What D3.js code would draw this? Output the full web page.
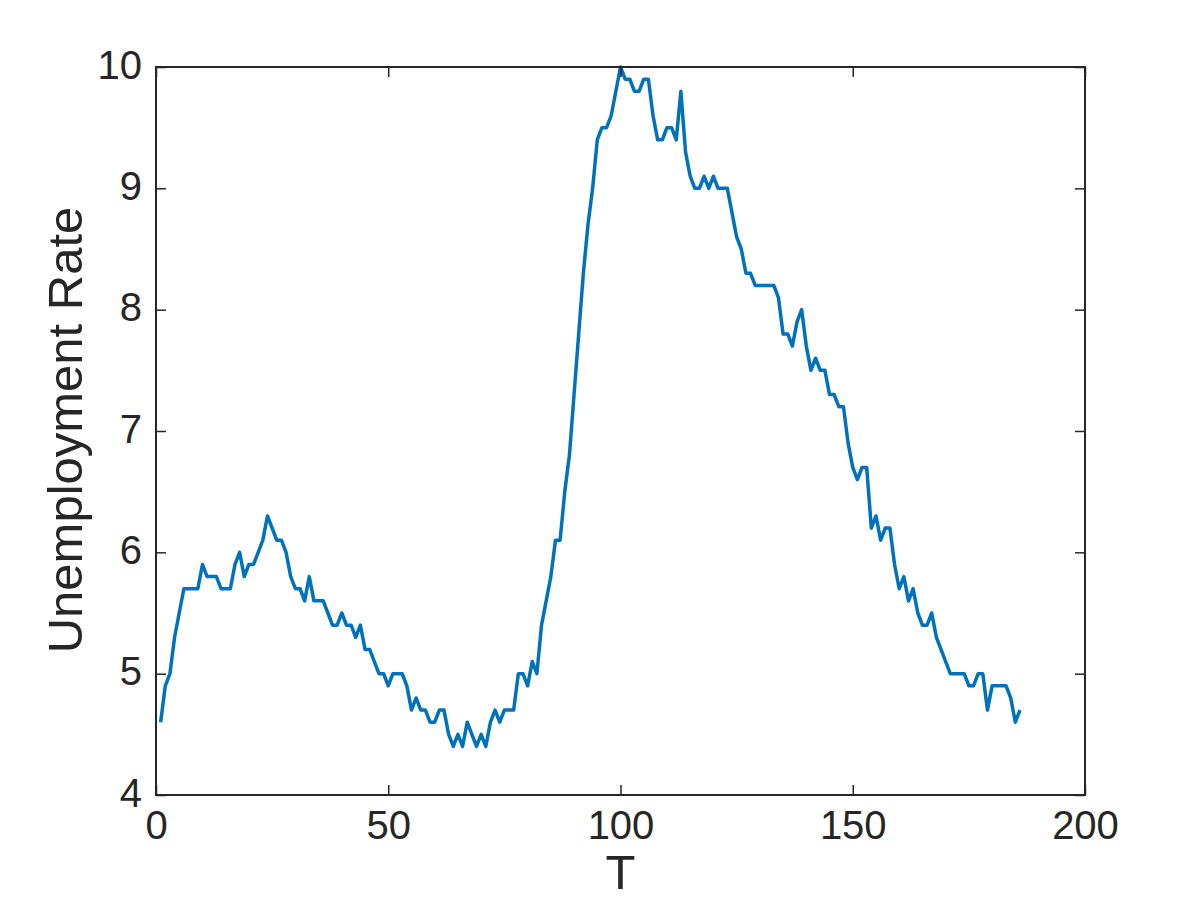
<!DOCTYPE html>
<html><head><meta charset="utf-8">
<script src="https://cdn.jsdelivr.net/npm/d3@7"></script>
<style>body{margin:0;background:#fff}svg{display:block}text{font-family:"Liberation Sans",Arial,Helvetica,sans-serif;fill:#262626}</style>
</head><body>
<svg id="c" width="1200" height="900"></svg>
<script>
const unemployment = [
4.6,4.9,5.0,5.3,5.5,5.7,
5.7,5.7,5.7,5.9,5.8,5.8,5.8,5.7,5.7,5.7,5.9,6.0,
5.8,5.9,5.9,6.0,6.1,6.3,6.2,6.1,6.1,6.0,5.8,5.7,
5.7,5.6,5.8,5.6,5.6,5.6,5.5,5.4,5.4,5.5,5.4,5.4,
5.3,5.4,5.2,5.2,5.1,5.0,5.0,4.9,5.0,5.0,5.0,4.9,
4.7,4.8,4.7,4.7,4.6,4.6,4.7,4.7,4.5,4.4,4.5,4.4,
4.6,4.5,4.4,4.5,4.4,4.6,4.7,4.6,4.7,4.7,4.7,5.0,
5.0,4.9,5.1,5.0,5.4,5.6,5.8,6.1,6.1,6.5,6.8,7.3,
7.8,8.3,8.7,9.0,9.4,9.5,9.5,9.6,9.8,10.0,9.9,9.9,
9.8,9.8,9.9,9.9,9.6,9.4,9.4,9.5,9.5,9.4,9.8,9.3,
9.1,9.0,9.0,9.1,9.0,9.1,9.0,9.0,9.0,8.8,8.6,8.5,
8.3,8.3,8.2,8.2,8.2,8.2,8.2,8.1,7.8,7.8,7.7,7.9,
8.0,7.7,7.5,7.6,7.5,7.5,7.3,7.3,7.2,7.2,6.9,6.7,
6.6,6.7,6.7,6.2,6.3,6.1,6.2,6.2,5.9,5.7,5.8,5.6,
5.7,5.5,5.4,5.4,5.5,5.3,5.2,5.1,5.0,5.0,5.0,5.0,
4.9,4.9,5.0,5.0,4.7,4.9,4.9,4.9,4.9,4.8,4.6,4.7
];
const xTicks = [0,50,100,150,200];
const yTicks = [4,5,6,7,8,9,10];
const xLabel = "T";
const yLabel = "Unemployment Rate";

const svg = d3.select("#c");
const L=156, R=1085, T=67, B=795;
const x = d3.scaleLinear().domain([0,200]).range([L,R]);
const y = d3.scaleLinear().domain([4,10]).range([B,T]);
const axisCol="#262626";

const line = d3.line().x((d,i)=>x(i+1)).y(d=>y(d));
svg.append("path").datum(unemployment).attr("d",line)
  .attr("fill","none").attr("stroke","#0072BD").attr("stroke-width",3.5).attr("stroke-linejoin","round");

const tl=10;
const gx = svg.append("g").attr("transform",`translate(0,${B})`)
  .call(d3.axisBottom(x).tickValues(xTicks).tickSize(-tl).tickPadding(16).tickFormat(d3.format("d")));
const gxt = svg.append("g").attr("transform",`translate(0,${T})`)
  .call(d3.axisTop(x).tickValues(xTicks).tickSize(-tl).tickFormat(""));
const gy = svg.append("g").attr("transform",`translate(${L},0)`)
  .call(d3.axisLeft(y).tickValues(yTicks).tickSize(-tl).tickPadding(14).tickFormat(d3.format("d")));
const gyr = svg.append("g").attr("transform",`translate(${R},0)`)
  .call(d3.axisRight(y).tickValues(yTicks).tickSize(-tl).tickFormat(""));
[gx,gxt,gy,gyr].forEach(g=>{
  g.select(".domain").remove();
  g.selectAll("line").attr("stroke",axisCol).attr("stroke-width",1.5);
  g.selectAll("text").style("font-size","40px").attr("fill",axisCol);
});
gy.selectAll("text").attr("dy","0.28em");
svg.append("rect").attr("x",L).attr("y",T).attr("width",R-L).attr("height",B-T)
  .attr("fill","none").attr("stroke",axisCol).attr("stroke-width",2);

svg.append("text").attr("x",(L+R)/2).attr("y",889).attr("text-anchor","middle")
  .style("font-size","49px").text(xLabel);
svg.append("text").attr("transform",`translate(82,${430}) rotate(-90)`).attr("text-anchor","middle")
  .style("font-size","49px").text(yLabel);
</script>
</body></html>
